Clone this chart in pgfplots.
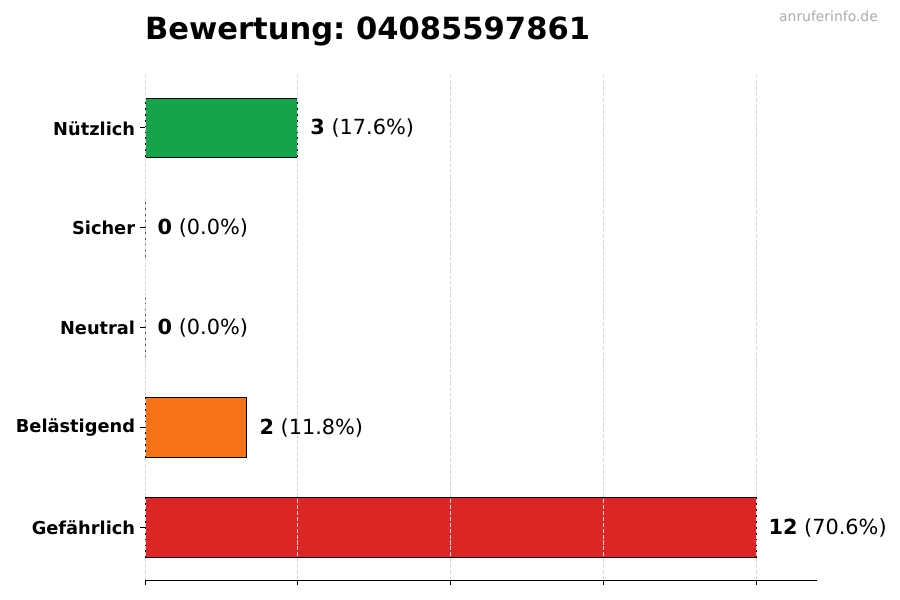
\documentclass[border=0pt]{standalone}
\usepackage{fontspec}
\setmainfont{DejaVu Sans}
\usepackage{pgfplots}
\pgfplotsset{compat=1.18}
\definecolor{cgreen}{HTML}{16A34A}
\definecolor{corange}{HTML}{F97316}
\definecolor{cred}{HTML}{DC2626}
\definecolor{cblue}{HTML}{2563EB}
\definecolor{cgray}{HTML}{6B7280}
\definecolor{wm}{HTML}{AAAAAA}
\definecolor{gridc}{HTML}{D8D8D8}

\begin{document}
\frenchspacing
\begin{tikzpicture}
\useasboundingbox (0,0) rectangle (900bp,600bp);
\begin{axis}[
    at={(145bp,20bp)}, anchor=south west,
    scale only axis, width=672bp, height=505bp,
    xbar, bar width=0.6, bar shift=0pt,
    xmin=0, xmax=13.2, ymin=-0.53, ymax=4.53,
    axis lines*=left, axis line style={-, black, line width=0.8bp},
    y axis line style={draw=none},
    tick align=outside, major tick length=4.9bp,
    tick style={black, line width=0.8bp},
    xtick={0,3,6,9,12}, xticklabels={},
    ytick={0,1,2,3,4},
    yticklabels={Gefährlich,Belästigend,Neutral,Sicher,Nützlich},
    yticklabel style={font=\fontsize{17.8bp}{21bp}\selectfont\bfseries, xshift=-1.5bp, yshift=-0.5bp},
    xmajorgrids,
    grid style={gridc, line width=0.8bp, dash pattern=on 4.1bp off 1.8bp},
    axis on top,
    clip=false,
    point meta=explicit symbolic,
    nodes near coords={\pgfplotspointmeta},
    every node near coord/.append style={anchor=west, xshift=9bp, yshift=-0.5bp,
        font=\fontsize{20.83bp}{24bp}\selectfont, text=black},
    every axis plot/.append style={draw=black, line width=0.8bp},
]
\addplot[fill=cred] coordinates {(12,0) [\textbf{12} (70.6\%)]};
\addplot[fill=corange] coordinates {(2,1) [\textbf{2} (11.8\%)]};
\addplot[fill=cgray] coordinates {(0,2) [\textbf{0} (0.0\%)]};
\addplot[fill=cblue] coordinates {(0,3) [\textbf{0} (0.0\%)]};
\addplot[fill=cgreen] coordinates {(3,4) [\textbf{3} (17.6\%)]};
\end{axis}
\node[anchor=base west, inner sep=0pt, font=\fontsize{30.56bp}{36bp}\selectfont\bfseries]
    at (145bp,560bp) {Bewertung: 04085597861};
\node[anchor=base east, inner sep=0pt, text=wm, font=\fontsize{13.9bp}{16bp}\selectfont]
    at (878bp,578bp) {anruferinfo.de};
\end{tikzpicture}
\end{document}
